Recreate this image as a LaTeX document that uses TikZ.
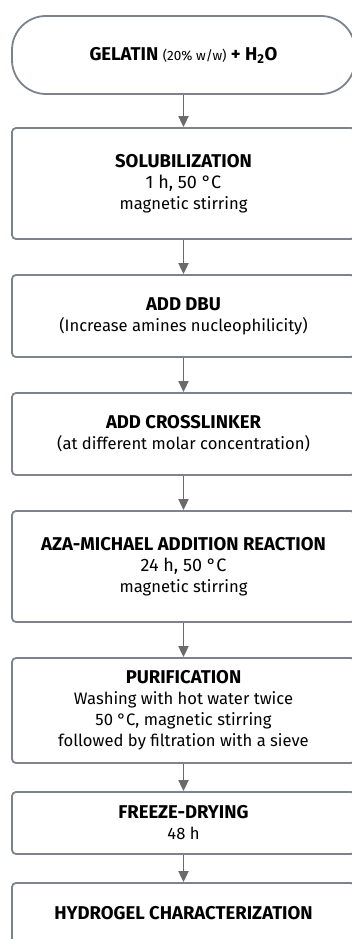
\documentclass[tikz,border=0pt]{standalone}
\usepackage{fontspec}
\setmainfont{Fira Sans}
\usepackage{tikz}
\usetikzlibrary{arrows.meta}
\definecolor{boxgray}{HTML}{7D838C}
\definecolor{arrowgray}{HTML}{6A6A6A}
\tikzstyle{every node}=[align=center,inner sep=0pt,text=black,font=\fontsize{16.6}{21}\selectfont]
\tikzstyle{stepbox}=[draw=boxgray,line width=1.8pt,rounded corners=4pt,minimum width=343pt]
\tikzstyle{startbox}=[stepbox,rounded corners=34pt]
\tikzstyle{flow}=[draw=arrowgray,line width=1.8pt,-{Triangle[length=11pt,width=10pt]}]
\newcommand{\head}[1]{{\fontsize{18.5}{21}\selectfont\bfseries #1}}
\newcommand{\timetemp}[1]{{\fontsize{18}{21}\selectfont #1}}

\begin{document}
\begin{tikzpicture}[x=1pt,y=-1pt]
	\useasboundingbox (0,0) rectangle (352,939);
	\node[startbox,minimum height=78pt] (gel) at (183.5,55) {\head{GELATIN} {\fontsize{13.5}{21}\selectfont(20\% w/w)} \head{+ H\textsubscript{2}O}};
	\node[stepbox,minimum height=111pt] (sol) at (183.5,183.5) {\head{SOLUBILIZATION}\\\timetemp{1 h, 50 °C}\\magnetic stirring};
	\node[stepbox,minimum height=82pt] (dbu) at (183.5,316) {\head{ADD DBU}\\(Increase amines nucleophilicity)};
	\node[stepbox,minimum height=82pt] (cross) at (183.5,434) {\head{ADD CROSSLINKER}\\(at different molar concentration)};
	\node[stepbox,minimum height=111pt] (aza) at (183.5,566.5) {\head{AZA-MICHAEL ADDITION REACTION}\\\timetemp{24 h, 50 °C}\\magnetic stirring};
	\node[stepbox,minimum height=105pt] (pur) at (183.5,710.5) {\head{PURIFICATION}\\Washing with hot water twice\\50 °C, magnetic stirring\\followed by filtration with a sieve};
	\node[stepbox,minimum height=62pt] (dry) at (183.5,823) {\head{FREEZE-DRYING}\\48 h};
	\node[stepbox,minimum height=60pt] (char) at (183.5,913) {\head{HYDROGEL CHARACTERIZATION}};
	\draw[flow] (gel) -- (sol);
	\draw[flow] (sol) -- (dbu);
	\draw[flow] (dbu) -- (cross);
	\draw[flow] (cross) -- (aza);
	\draw[flow] (aza) -- (pur);
	\draw[flow] (pur) -- (dry);
	\draw[flow] (dry) -- (char);
\end{tikzpicture}
\end{document}
